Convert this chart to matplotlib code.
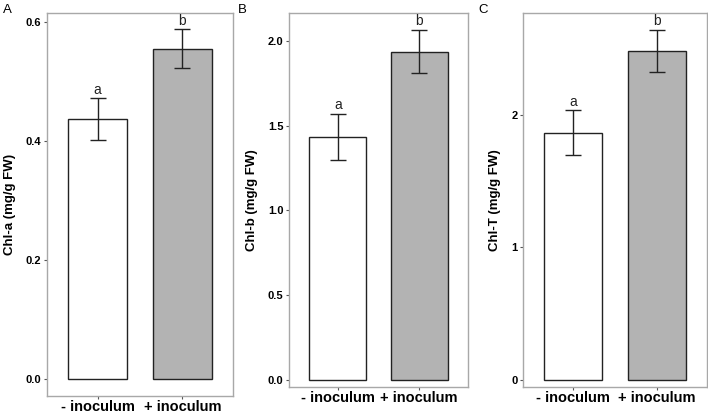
import numpy as np
import matplotlib
matplotlib.use('Agg')
import matplotlib.pyplot as plt

plt.rcParams['font.family'] = ['Liberation Sans', 'DejaVu Sans']

groups = ['- inoculum', '+ inoculum']
panel_tags = ['A', 'B', 'C']
ylabels = ['Chl-a (mg/g FW)', 'Chl-b (mg/g FW)', 'Chl-T (mg/g FW)']
means = [[0.437, 0.555], [1.433, 1.937], [1.866, 2.486]]
errs = [[0.035, 0.033], [0.136, 0.128], [0.170, 0.162]]
letters = [['a', 'b'], ['a', 'b'], ['a', 'b']]
yticks = [[0.0, 0.2, 0.4, 0.6], [0.0, 0.5, 1.0, 1.5, 2.0], [0, 1, 2]]
yticklabels = [['0.0', '0.2', '0.4', '0.6'], ['0.0', '0.5', '1.0', '1.5', '2.0'], ['0', '1', '2']]
ylims = [(-0.0286, 0.615), (-0.044, 2.165), (-0.056, 2.773)]
bar_colors = ['white', '#b3b3b3']

W, H = 708, 413
# axes boxes in pixels: left, right, top, bottom
boxes = [(47, 233, 13, 396), (289, 468, 13, 387), (523, 707, 13, 387)]
tag_pos = [(3, 10), (238, 10), (478, 10)]

fig = plt.figure(figsize=(W / 100, H / 100), dpi=100)
for k in range(3):
    l, r, t, b = boxes[k]
    ax = fig.add_axes([l / W, (H - b) / H, (r - l) / W, (b - t) / H])
    x = np.arange(1, 3)
    ax.bar(x, means[k], width=0.7, color=bar_colors, edgecolor='#222222', linewidth=1.0, zorder=2)
    ax.errorbar(x, means[k], yerr=errs[k], fmt='none', ecolor='#222222', elinewidth=1.0,
                capsize=6, capthick=1.0, zorder=3)
    ymax = ylims[k][1] - ylims[k][0]
    for i in range(2):
        ax.text(x[i], means[k][i] + errs[k][i] + ymax * 0.004, letters[k][i], ha='center', va='bottom',
                fontsize=10, color='#222222')
    ax.set_xlim(0.4, 2.6)
    ax.set_ylim(*ylims[k])
    ax.set_xticks(x)
    ax.set_xticklabels(groups, fontsize=10.5, fontweight='bold', color='black')
    ax.set_yticks(yticks[k])
    ax.set_yticklabels(yticklabels[k], fontsize=8, fontweight='bold', color='black')
    ax.set_ylabel(ylabels[k], fontsize=9.5, fontweight='bold', labelpad=7)
    ax.tick_params(length=2.5, width=0.8, color='#555555', pad=1.5)
    ax.tick_params(axis='x', pad=0.5)
    for s in ax.spines.values():
        s.set_color('#a8a8a8')
        s.set_linewidth(1.0)
    fig.text(tag_pos[k][0] / W, 1 - tag_pos[k][1] / H, panel_tags[k], fontsize=9.5, va='center', ha='left')

fig.savefig('out.png', dpi=100)
